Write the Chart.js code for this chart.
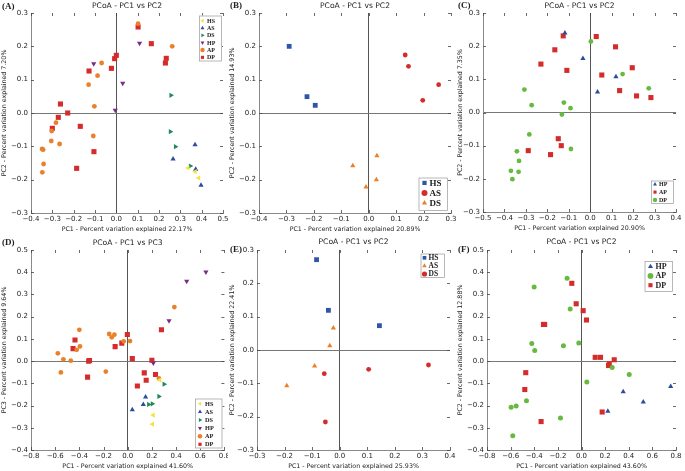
<!DOCTYPE html>
<html>
<head>
<meta charset="utf-8">
<script src="https://cdn.jsdelivr.net/npm/chart.js@4/dist/chart.umd.min.js"></script>
<style>
  body { margin: 0; background: #fff; }
  #wrap { position: relative; width: 685px; height: 471px; overflow: hidden; }
  #wrap canvas { position: absolute; }
</style>
</head>
<body>
<div id="wrap"></div>
<script>
// ---- data: [PC1, PC2/PC3] per sample ----
// (A)
const aHS = [[0.336,-0.165],[0.37,-0.176],[0.386,-0.195]];
const aAS = [[0.369,-0.095],[0.266,-0.138],[0.372,-0.169],[0.397,-0.217]];
const aDS = [[0.256,0.053],[0.253,-0.056],[0.277,-0.101],[0.347,-0.159]];
const aHP = [[-0.106,0.148],[0.109,0.209],[0.03,0.089],[-0.005,0.008]];
const aAP = [[0.102,0.268],[0.262,0.2],[-0.069,0.15],[-0.088,0.112],[-0.13,0.085],[-0.103,0.02],[-0.283,-0.029],[-0.303,-0.054],[-0.108,-0.069],[-0.305,-0.084],[-0.266,-0.093],[-0.348,-0.108],[-0.343,-0.11],[-0.341,-0.153],[-0.347,-0.178]];
const aDP = [[0.102,0.258],[0.164,0.208],[0.234,0.164],[0.23,0.15],[0.0,0.173],[-0.008,0.163],[-0.023,0.134],[-0.128,0.126],[-0.262,0.027],[-0.228,0.0],[-0.272,-0.013],[-0.3,-0.046],[-0.169,-0.04],[-0.105,-0.116],[-0.186,-0.166]];
// (B)
const bHS = [[-0.29,0.2],[-0.225,0.049],[-0.195,0.023]];
const bAS = [[0.133,0.174],[0.145,0.14],[0.255,0.085],[0.197,0.038]];
const bDS = [[0.03,-0.128],[-0.058,-0.158],[0.028,-0.2],[-0.01,-0.222]];
// (C)
const cHP = [[-0.118,0.24],[-0.034,0.163],[0.12,0.108],[0.034,0.062]];
const cAP = [[-0.126,0.231],[-0.165,0.189],[-0.23,0.146],[-0.109,0.127],[0.028,0.229],[0.118,0.198],[0.054,0.113],[0.196,0.135],[0.137,0.066],[0.216,0.05],[0.283,0.045],[-0.149,-0.079],[-0.135,-0.1],[-0.289,-0.115],[-0.185,-0.127]];
const cDP = [[0.003,0.214],[0.151,0.116],[0.273,0.073],[-0.307,0.069],[-0.273,0.022],[-0.123,0.03],[-0.092,0.013],[-0.132,-0.006],[-0.284,-0.066],[-0.09,-0.11],[-0.342,-0.117],[-0.332,-0.146],[-0.334,-0.179],[-0.37,-0.176],[-0.363,-0.201]];
// (D) PC1 vs PC3
const dHS = [[0.265,-0.085],[0.211,-0.243],[0.205,-0.284]];
const dAS = [[0.148,-0.161],[0.129,-0.195],[0.038,-0.219]];
const dDS = [[0.301,-0.104],[0.258,-0.159],[0.173,-0.195],[0.203,-0.192]];
const dHP = [[0.647,0.401],[0.488,0.359],[0.342,0.182],[0.212,-0.008]];
const dAP = [[0.386,0.243],[-0.4,0.141],[-0.395,0.066],[-0.422,0.051],[-0.578,0.035],[-0.532,0.008],[-0.471,0.002],[-0.553,-0.051],[-0.181,-0.047],[-0.153,0.122],[-0.11,0.119],[-0.132,0.107],[-0.033,0.089],[0.019,0.09],[0.258,-0.078]];
const dDP = [[-0.436,0.095],[-0.452,0.056],[-0.323,0.0],[-0.316,0.003],[-0.332,-0.072],[-0.003,0.12],[-0.104,0.065],[-0.049,0.081],[0.038,0.011],[0.2,0.004],[0.137,-0.053],[0.23,-0.06],[0.153,-0.086],[0.08,-0.112],[0.279,0.141]];
// (E)
const eHS = [[-0.084,0.271],[-0.041,0.119],[0.144,0.073]];
const eAS = [[-0.023,0.066],[-0.036,0.013],[-0.091,-0.048],[-0.192,-0.107]];
const eDS = [[-0.056,-0.071],[-0.052,-0.216],[0.105,-0.058],[0.322,-0.045]];
// (F)
const fHP = [[0.755,-0.114],[0.523,-0.184],[0.353,-0.138],[0.223,-0.226]];
const fAP = [[-0.122,0.373],[-0.401,0.333],[-0.096,0.234],[-0.421,0.079],[-0.396,0.048],[-0.153,0.069],[-0.023,0.081],[0.26,-0.029],[0.404,-0.06],[0.045,-0.094],[-0.466,-0.178],[-0.553,-0.202],[-0.596,-0.208],[-0.178,-0.256],[-0.582,-0.336]];
const fDP = [[-0.082,0.35],[-0.045,0.258],[0.014,0.227],[0.042,0.185],[-0.322,0.165],[-0.312,0.165],[0.116,0.017],[0.161,0.017],[0.277,0.006],[0.235,-0.012],[0.229,-0.02],[-0.472,-0.052],[-0.48,-0.128],[-0.342,-0.272],[0.175,-0.229]];

// axis ranges [min, max, step]
const axA = [-0.4, 0.5, 0.1], ayA = [-0.3, 0.3, 0.1];
const axB = [-0.4, 0.3, 0.1], ayB = [-0.3, 0.3, 0.1];
const axC = [-0.5, 0.4, 0.1], ayC = [-0.3, 0.3, 0.1];
const axD = [-0.8, 0.8, 0.2], ayD = [-0.4, 0.5, 0.1];
const axE = [-0.3, 0.4, 0.1], ayE = [-0.3, 0.3, 0.1];
const axF = [-0.8, 0.8, 0.2], ayF = [-0.4, 0.5, 0.1];

const pctX = ['22.17%', '20.89%', '20.90%', '41.60%', '25.93%', '43.60%'];
const pctY = ['7.20%', '14.93%', '7.35%', '9.64%', '22.41%', '12.88%'];

// marker looks
const YEL = '#f3e33d', BLU = '#2c4c9c', GRN = '#21895a', PUR = '#7a2b88', ORA = '#e9802a', RED = '#d52b2b', LGR = '#66ba3f';
const left = {style: 'triangle', rot: -90}, right = {style: 'triangle', rot: 90}, down = {style: 'triangle', rot: 180};
const up = {style: 'triangle', rot: 0}, dot = {style: 'circle', rot: 0}, sq = {style: 'rect', rot: 0};

function grp(label, pts, color, shape, r) {
  return {label, pts, color, shape, r};
}

const panels = [
  { tag: '(A)', box: [0, 0, 228, 235], area: [31, 13, 5, 22], ax: axA, ay: ayA, pc: 'PC2', i: 0, tagY: 7, titleY: 6,
    groups: [grp('HS', aHS, YEL, left, 3), grp('AS', aAS, BLU, up, 3), grp('DS', aDS, GRN, right, 3),
             grp('HP', aHP, PUR, down, 3), grp('AP', aAP, ORA, dot, 2.4), grp('DP', aDP, RED, sq, 3.6)],
    leg: {x: 199, y: 15.5, w: 23, h: 46, first: 5.2, row: 7.33, mx: 3.5, tx: 8, size: 6, r: 2.2} },
  { tag: '(B)', box: [228, 0, 228, 235], area: [31, 13, 5, 22], ax: axB, ay: ayB, pc: 'PC2', i: 1, tagY: 6, titleY: 6,
    groups: [grp('HS', bHS, '#2d56a6', sq, 3.4), grp('AS', bAS, RED, dot, 2.4), grp('DS', bDS, ORA, up, 3)],
    leg: {x: 190.5, y: 177.5, w: 29.5, h: 33.5, first: 5.4, row: 10, mx: 6, tx: 11, size: 9, r: 3} },
  { tag: '(C)', box: [456, 0, 229, 235], area: [27, 13, 9, 23], ax: axC, ay: ayC, pc: 'PC2', i: 2, tagY: 6, titleY: 6,
    groups: [grp('HP', cHP, BLU, up, 3), grp('AP', cAP, RED, sq, 3.6), grp('DP', cDP, LGR, dot, 2.4)],
    leg: {x: 195, y: 180.5, w: 23, h: 23.5, first: 3.8, row: 7.8, mx: 4, tx: 8, size: 6, r: 2.2} },
  { tag: '(D)', box: [0, 235, 228, 236], area: [31, 15, 3, 21], ax: axD, ay: ayD, pc: 'PC3', i: 3, tagY: 7.3, titleY: 8,
    groups: [grp('HS', dHS, YEL, left, 3), grp('AS', dAS, BLU, up, 3), grp('DS', dDS, GRN, right, 3),
             grp('HP', dHP, PUR, down, 3), grp('AP', dAP, ORA, dot, 2.4), grp('DP', dDP, RED, sq, 3.6)],
    leg: {x: 195, y: 163.5, w: 27.5, h: 50, first: 5.3, row: 8.1, mx: 5, tx: 10, size: 6.3, r: 2.3} },
  { tag: '(E)', box: [228, 235, 228, 236], area: [29, 15, 6, 21], ax: axE, ay: ayE, pc: 'PC2', i: 4, tagY: 15, titleY: 7.5,
    groups: [grp('HS', eHS, '#2d56a6', sq, 3.4), grp('AS', eAS, ORA, up, 3), grp('DS', eDS, RED, dot, 2.4)],
    leg: {x: 192.5, y: 18.5, w: 24.5, h: 24.5, first: 4.3, row: 8.1, mx: 4, tx: 8, size: 7.5, r: 2.6} },
  { tag: '(F)', box: [456, 235, 229, 236], area: [31, 15, 9, 21], ax: axF, ay: ayF, pc: 'PC2', i: 5, tagY: 15, titleY: 7.5,
    groups: [grp('HP', fHP, BLU, up, 3), grp('AP', fAP, LGR, dot, 2.5), grp('DP', fDP, RED, sq, 3.6)],
    leg: {x: 188.5, y: 26, w: 28.5, h: 31, first: 5.6, row: 9.3, mx: 6, tx: 11, size: 8, r: 2.9} }
];

const SANS = "'DejaVu Sans', sans-serif";
const fmt = v => (Math.abs(v) < 1e-9 ? 0 : v).toFixed(1).replace('-', '\u2212');

function mark(ctx, shape, r, x, y) {
  if (Chart.helpers && Chart.helpers.drawPoint) {
    Chart.helpers.drawPoint(ctx, {pointStyle: shape.style, radius: r, rotation: shape.rot, borderWidth: 0}, x, y);
    return;
  }
  ctx.beginPath(); ctx.arc(x, y, r, 0, Math.PI * 2); ctx.fill();
}

// titles, panel tag, inward ticks, legend box
const decor = {
  id: 'decor',
  afterDraw(chart, args, o) {
    const ctx = chart.ctx, ca = chart.chartArea, sx = chart.scales.x, sy = chart.scales.y;
    ctx.save();
    ctx.strokeStyle = '#444'; ctx.lineWidth = 0.8;
    ctx.beginPath();
    sx.ticks.forEach(t => {
      const px = Math.round(sx.getPixelForValue(t.value)) + 0.5;
      ctx.moveTo(px, ca.bottom); ctx.lineTo(px, ca.bottom - 3);
      ctx.moveTo(px, ca.top); ctx.lineTo(px, ca.top + 3);
    });
    sy.ticks.forEach(t => {
      const py = Math.round(sy.getPixelForValue(t.value)) + 0.5;
      ctx.moveTo(ca.left, py); ctx.lineTo(ca.left + 3, py);
      ctx.moveTo(ca.right, py); ctx.lineTo(ca.right - 3, py);
    });
    ctx.stroke();

    ctx.fillStyle = '#222';
    ctx.textBaseline = 'middle';
    ctx.textAlign = 'center';
    ctx.font = '7.6px ' + SANS;
    ctx.fillText(o.title, (ca.left + ca.right) / 2, o.titleY);
    ctx.textAlign = 'left';
    ctx.font = "bold 9px 'Liberation Serif', serif";
    ctx.fillText(o.tag, 2, o.tagY);

    const L = o.leg;
    ctx.fillStyle = '#fff';
    ctx.fillRect(L.x, L.y, L.w, L.h);
    ctx.strokeStyle = '#999'; ctx.lineWidth = 0.7;
    ctx.strokeRect(L.x + 0.5, L.y + 0.5, L.w - 1, L.h - 1);
    ctx.font = 'bold ' + L.size + "px 'Liberation Serif', serif";
    o.groups.forEach((g, k) => {
      const yy = L.y + L.first + k * L.row;
      ctx.fillStyle = g.color;
      mark(ctx, g.shape, L.r, L.x + L.mx, yy);
      ctx.fillStyle = '#222';
      ctx.fillText(g.label, L.x + L.tx, yy + 0.3);
    });
    ctx.restore();
  }
};

const wrap = document.getElementById('wrap');
panels.forEach(p => {
  const [bx, by, bw, bh] = p.box;
  const [al, at, ar, ab] = p.area;
  const cv = document.createElement('canvas');
  cv.width = bw; cv.height = bh;
  cv.style.left = bx + 'px'; cv.style.top = by + 'px';
  cv.style.width = bw + 'px'; cv.style.height = bh + 'px';
  wrap.appendChild(cv);

  const titleFont = 6.3, lh = titleFont * 1.2;
  const xTitleCenter = bh - ab + 16;

  new Chart(cv.getContext('2d'), {
    type: 'scatter',
    data: {
      datasets: p.groups.map(g => ({
        label: g.label,
        data: g.pts.map(([x, y]) => ({x, y})),
        backgroundColor: g.color,
        borderColor: g.color,
        borderWidth: 0,
        pointStyle: g.shape.style,
        rotation: g.shape.rot,
        pointRadius: g.r,
        pointHoverRadius: g.r
      }))
    },
    options: {
      responsive: false,
      animation: false,
      devicePixelRatio: 1,
      layout: {padding: {top: at, right: ar, left: 0, bottom: 0}},
      plugins: {
        legend: {display: false},
        tooltip: {enabled: false},
        decor: {title: 'PCoA - PC1 vs ' + p.pc, titleY: p.titleY, tag: p.tag, tagY: p.tagY, leg: p.leg, groups: p.groups}
      },
      scales: {
        x: {
          type: 'linear', min: p.ax[0], max: p.ax[1],
          ticks: {stepSize: p.ax[2], autoSkip: false, maxRotation: 0, padding: 2, color: '#222',
                  font: {family: SANS, size: 7}, callback: v => fmt(v)},
          grid: {drawTicks: false, lineWidth: 1,
                 color: c => (c.tick && Math.abs(c.tick.value) < 1e-9 ? '#555' : 'rgba(0,0,0,0)')},
          border: {display: true, color: '#8a8a8a', width: 1},
          title: {display: true, text: 'PC1 - Percent variation explained ' + pctX[p.i], color: '#222',
                  font: {family: SANS, size: titleFont}, padding: {top: 0, bottom: bh - xTitleCenter - lh / 2}},
          afterFit: s => { s.height = ab; s.paddingLeft = 0; s.paddingRight = 0; }
        },
        y: {
          type: 'linear', min: p.ay[0], max: p.ay[1],
          ticks: {stepSize: p.ay[2], autoSkip: false, padding: 3, color: '#222',
                  font: {family: SANS, size: 7}, callback: v => fmt(v)},
          grid: {drawTicks: false, lineWidth: 1,
                 color: c => (c.tick && Math.abs(c.tick.value) < 1e-9 ? '#777' : 'rgba(0,0,0,0)')},
          border: {display: true, color: '#8a8a8a', width: 1},
          title: {display: true, text: p.pc + ' - Percent variation explained ' + pctY[p.i], color: '#222',
                  font: {family: SANS, size: titleFont}, padding: {top: 4.2 - lh / 2, bottom: 0}},
          afterFit: s => { s.width = al; s.paddingTop = 0; s.paddingBottom = 0; }
        }
      }
    },
    plugins: [decor]
  });
});
</script>
</body>
</html>
